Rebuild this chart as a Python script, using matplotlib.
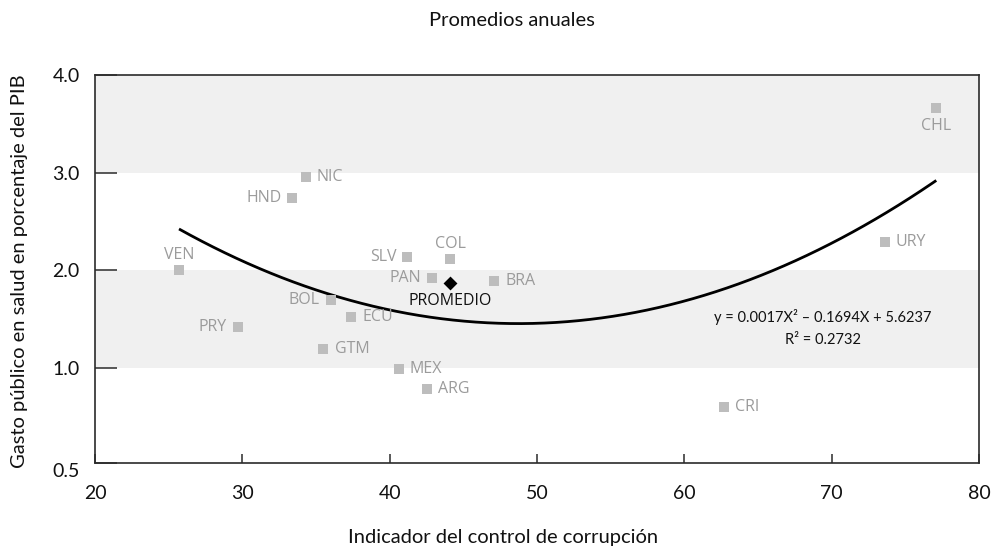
import matplotlib
matplotlib.use("Agg")
import matplotlib.pyplot as plt
import numpy as np

# ---- data ----
countries = ["VEN", "PRY", "HND", "NIC", "GTM", "BOL", "ECU", "MEX", "SLV",
             "ARG", "PAN", "COL", "BRA", "CRI", "URY", "CHL"]
corruption = [25.7, 29.7, 33.4, 34.3, 35.5, 36.0, 37.4, 40.6, 41.2,
              42.5, 42.9, 44.1, 47.1, 62.7, 73.6, 77.1]
health = [2.00, 1.42, 2.74, 2.95, 1.19, 1.70, 1.52, 0.99, 2.14,
          0.78, 1.92, 2.11, 1.89, 0.60, 2.29, 3.66]
label_pos = ["above", "left", "left", "right", "right", "left", "right", "right", "left",
             "right", "left", "above", "right", "right", "right", "below"]

avg_label = "PROMEDIO"
avg_x = 44.1
avg_y = 1.87

equation = "y = 0.0017X\u00b2 \u2013 0.1694X + 5.6237"
r2 = "R\u00b2 = 0.2732"

ytick_vals = [0.025, 1.0, 2.0, 3.0, 4.0]
ytick_labels = ["0.5", "1.0", "2.0", "3.0", "4.0"]
xtick_vals = [20, 30, 40, 50, 60, 70, 80]

title = "Promedios anuales"
xlabel = "Indicador del control de corrupción"
ylabel = "Gasto público en salud en porcentaje del PIB"

# ---- style ----
plt.rcParams['font.family'] = ['Lato', 'DejaVu Sans']
dark = "#2b2b2b"
band = "#f0f0f0"
mark = "#bdbdbd"
labc = "#9b9b9b"

fig = plt.figure(figsize=(9.92, 5.47), dpi=100)
ax = fig.add_axes([0.0958, 0.1535, 0.8911, 0.7094])

ax.set_xlim(20, 80)
ax.set_ylim(0.025, 4.0)

ax.axhspan(3, 4, color=band, zorder=0, lw=0)
ax.axhspan(1, 2, color=band, zorder=0, lw=0)

# second-order polynomial trend fitted to the country data
coef = np.polyfit(corruption, health, 2)
tx = np.linspace(min(corruption), max(corruption), 200)
ax.plot(tx, np.polyval(coef, tx), color="black", lw=2.0, zorder=3,
        solid_capstyle="butt")

ax.scatter(corruption, health, marker="s", s=52, color=mark, zorder=4, linewidths=0)
ax.scatter([avg_x], [avg_y], marker="D", s=50, color="black", zorder=5, linewidths=0)

offsets = {"above": ((0, 11), "center", "center"),
           "below": ((0, -13), "center", "center"),
           "left": ((-8, 0), "right", "center"),
           "right": ((8, 0), "left", "center")}
for c, x, y, p in zip(countries, corruption, health, label_pos):
    off, ha, va = offsets[p]
    ax.annotate(c, (x, y), xytext=off, textcoords="offset points", ha=ha, va=va,
                fontsize=11.5, color=labc, zorder=6,
                family=['Open Sans', 'DejaVu Sans'])
ax.annotate(avg_label, (avg_x, avg_y), xytext=(0, -13), textcoords="offset points",
            ha="center", va="center", fontsize=11.5, color="#111111", zorder=6,
            family=['Open Sans', 'DejaVu Sans'])

ax.text(0.8235, 0.3775, equation, transform=ax.transAxes, ha="center", va="center",
        fontsize=10.5, color="#111111")
ax.text(0.8235, 0.316, r2, transform=ax.transAxes, ha="center", va="center",
        fontsize=10.5, color="#111111")

for s in ax.spines.values():
    s.set_color(dark)
    s.set_linewidth(1.2)

ax.set_yticks(ytick_vals)
ax.set_yticklabels(ytick_labels)
ax.set_xticks(xtick_vals)
ax.tick_params(axis="y", direction="in", length=16, width=1.1, color=dark,
               labelsize=14, pad=11, labelcolor="#111111")
ax.tick_params(axis="x", direction="in", length=6.5, width=1.1, color=dark,
               labelsize=14, pad=16, labelcolor="#111111")
ax.get_yticklabels()[0].set_va("top")

fig.text(0.516, 0.963, title, ha="center", va="center", fontsize=14.5, color="#111111")
fig.text(0.5076, 0.018, xlabel, ha="center", va="center", fontsize=14.5, color="#111111")
fig.text(0.020, 0.505, ylabel, ha="center", va="center", rotation=90,
         fontsize=14.5, color="#111111")

fig.savefig("out.png", dpi=100)
